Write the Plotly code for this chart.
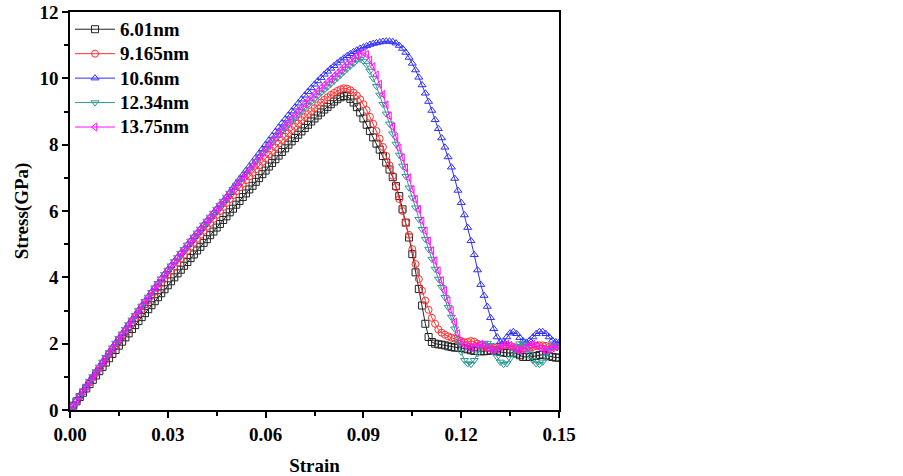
import plotly.graph_objects as go

# strain grid, one sample every 0.001
strain = [i / 1000 for i in range(151)]

labels = ["6.01nm", "9.165nm", "10.6nm", "12.34nm", "13.75nm"]

stress_601 = [
    0, 0.13, 0.26, 0.39, 0.52, 0.65, 0.78, 0.91, 1.04, 1.17,
    1.3, 1.43, 1.56, 1.69, 1.81, 1.94, 2.06, 2.19, 2.31, 2.44,
    2.56, 2.68, 2.8, 2.92, 3.04, 3.16, 3.28, 3.4, 3.52, 3.64,
    3.76, 3.88, 4.0, 4.12, 4.23, 4.35, 4.46, 4.58, 4.69, 4.81,
    4.92, 5.04, 5.15, 5.27, 5.38, 5.5, 5.61, 5.73, 5.84, 5.96,
    6.07, 6.19, 6.3, 6.42, 6.53, 6.65, 6.76, 6.88, 6.99, 7.11,
    7.22, 7.34, 7.45, 7.56, 7.67, 7.78, 7.89, 8.0, 8.1, 8.2,
    8.3, 8.4, 8.5, 8.6, 8.7, 8.79, 8.88, 8.97, 9.06, 9.14,
    9.22, 9.3, 9.37, 9.43, 9.47, 9.46, 9.38, 9.27, 9.13, 8.97,
    8.79, 8.6, 8.41, 8.22, 8.03, 7.85, 7.66, 7.46, 7.25, 7.02,
    6.75, 6.45, 6.05, 5.65, 5.2, 4.7, 4.15, 3.65, 3.15, 2.6,
    2.2, 2.05, 2.0, 1.98, 1.97, 1.95, 1.92, 1.9, 1.88, 1.88,
    1.87, 1.85, 1.83, 1.8, 1.78, 1.78, 1.77, 1.77, 1.78, 1.8,
    1.8, 1.78, 1.75, 1.73, 1.72, 1.72, 1.73, 1.7, 1.65, 1.6,
    1.6, 1.6, 1.62, 1.63, 1.66, 1.67, 1.65, 1.62, 1.6, 1.58,
    1.58,
]

stress_9165 = [
    0, 0.13, 0.27, 0.41, 0.55, 0.69, 0.83, 0.97, 1.11, 1.25,
    1.39, 1.53, 1.67, 1.81, 1.95, 2.09, 2.23, 2.37, 2.5, 2.64,
    2.77, 2.91, 3.04, 3.18, 3.31, 3.44, 3.57, 3.7, 3.83, 3.96,
    4.08, 4.2, 4.32, 4.44, 4.56, 4.68, 4.8, 4.92, 5.04, 5.16,
    5.28, 5.4, 5.52, 5.64, 5.76, 5.88, 6.0, 6.12, 6.24, 6.36,
    6.48, 6.6, 6.71, 6.82, 6.93, 7.04, 7.15, 7.26, 7.37, 7.48,
    7.59, 7.7, 7.81, 7.92, 8.03, 8.14, 8.24, 8.34, 8.44, 8.54,
    8.64, 8.74, 8.83, 8.92, 9.01, 9.1, 9.19, 9.27, 9.35, 9.43,
    9.5, 9.56, 9.62, 9.67, 9.7, 9.69, 9.64, 9.57, 9.48, 9.37,
    9.22, 9.04, 8.84, 8.63, 8.41, 8.18, 7.93, 7.66, 7.38, 7.06,
    6.72, 6.36, 6.0, 5.65, 5.28, 4.85, 4.4, 3.95, 3.6, 3.3,
    3.02, 2.78, 2.6, 2.43, 2.33, 2.27, 2.22, 2.18, 2.15, 2.12,
    2.08, 2.04, 2.05, 2.08, 2.06, 2.0, 1.95, 1.9, 1.88, 1.87,
    1.88, 1.9, 1.93, 1.95, 1.95, 1.93, 1.9, 1.88, 1.87, 1.86,
    1.86, 1.88, 1.9, 1.93, 1.95, 1.95, 1.93, 1.9, 1.9, 1.92,
    1.95,
]

stress_106 = [
    0, 0.14, 0.29, 0.43, 0.58, 0.72, 0.87, 1.01, 1.16, 1.3,
    1.45, 1.59, 1.74, 1.88, 2.02, 2.16, 2.3, 2.44, 2.58, 2.72,
    2.86, 3.0, 3.14, 3.28, 3.41, 3.55, 3.69, 3.82, 3.96, 4.09,
    4.22, 4.35, 4.48, 4.6, 4.73, 4.85, 4.98, 5.1, 5.22, 5.34,
    5.46, 5.58, 5.7, 5.82, 5.94, 6.06, 6.18, 6.3, 6.42, 6.55,
    6.7, 6.83, 6.96, 7.09, 7.22, 7.35, 7.48, 7.61, 7.74, 7.87,
    8.0, 8.13, 8.26, 8.39, 8.52, 8.65, 8.77, 8.89, 9.01, 9.13,
    9.25, 9.37, 9.49, 9.6, 9.71, 9.82, 9.92, 10.02, 10.12, 10.21,
    10.3, 10.38, 10.46, 10.54, 10.61, 10.68, 10.74, 10.8, 10.85, 10.9,
    10.94, 10.98, 11.02, 11.05, 11.07, 11.09, 11.11, 11.12, 11.12, 11.1,
    11.06, 10.99, 10.9, 10.78, 10.63, 10.45, 10.25, 10.03, 9.8, 9.55,
    9.3, 9.03, 8.75, 8.48, 8.2, 7.92, 7.63, 7.32, 6.98, 6.62,
    6.25, 5.88, 5.5, 5.1, 4.68, 4.22, 3.78, 3.45, 3.12, 2.78,
    2.45, 2.2, 2.05, 2.05, 2.2, 2.32, 2.36, 2.3, 2.18, 2.08,
    2.04, 2.1, 2.2, 2.3, 2.36, 2.36, 2.3, 2.2, 2.1, 2.05,
    2.03,
]

stress_1234 = [
    0, 0.14, 0.29, 0.43, 0.58, 0.72, 0.87, 1.01, 1.16, 1.3,
    1.45, 1.59, 1.74, 1.88, 2.02, 2.16, 2.3, 2.44, 2.58, 2.72,
    2.86, 3.0, 3.14, 3.28, 3.41, 3.55, 3.69, 3.82, 3.96, 4.09,
    4.22, 4.35, 4.48, 4.6, 4.73, 4.85, 4.98, 5.1, 5.22, 5.34,
    5.46, 5.58, 5.7, 5.82, 5.94, 6.06, 6.18, 6.3, 6.42, 6.54,
    6.66, 6.78, 6.9, 7.02, 7.14, 7.26, 7.38, 7.5, 7.62, 7.74,
    7.86, 7.97, 8.08, 8.19, 8.3, 8.41, 8.51, 8.61, 8.71, 8.81,
    8.91, 9.01, 9.11, 9.2, 9.29, 9.38, 9.47, 9.56, 9.65, 9.74,
    9.83, 9.92, 10.01, 10.1, 10.19, 10.28, 10.37, 10.45, 10.55, 10.58,
    10.52, 10.4, 10.22, 10.0, 9.76, 9.5, 9.22, 8.93, 8.63, 8.33,
    8.02, 7.69, 7.36, 7.05, 6.7, 6.4, 6.1, 5.75, 5.45, 5.15,
    4.85, 4.55, 4.25, 3.95, 3.7, 3.4, 3.1, 2.8, 2.45, 2.05,
    1.75, 1.5, 1.4, 1.38, 1.5, 1.7, 1.9, 2.0, 2.02, 1.95,
    1.8, 1.6, 1.45, 1.38, 1.4, 1.55, 1.75, 1.9, 2.0, 2.0,
    1.9, 1.7, 1.5, 1.4, 1.38, 1.45, 1.6, 1.8, 1.9, 1.95,
    1.95,
]

stress_1375 = [
    0, 0.14, 0.29, 0.43, 0.58, 0.72, 0.87, 1.01, 1.16, 1.3,
    1.45, 1.59, 1.74, 1.88, 2.02, 2.16, 2.3, 2.44, 2.58, 2.72,
    2.86, 3.0, 3.14, 3.28, 3.41, 3.55, 3.69, 3.82, 3.96, 4.09,
    4.22, 4.35, 4.48, 4.6, 4.73, 4.85, 4.98, 5.1, 5.22, 5.34,
    5.46, 5.58, 5.7, 5.82, 5.94, 6.06, 6.18, 6.3, 6.42, 6.54,
    6.66, 6.78, 6.9, 7.02, 7.14, 7.26, 7.38, 7.5, 7.62, 7.74,
    7.86, 7.98, 8.1, 8.22, 8.34, 8.46, 8.57, 8.68, 8.79, 8.9,
    9.01, 9.12, 9.23, 9.33, 9.43, 9.53, 9.62, 9.71, 9.8, 9.89,
    9.98, 10.07, 10.16, 10.25, 10.34, 10.43, 10.52, 10.6, 10.68, 10.74,
    10.77, 10.72, 10.55, 10.35, 10.1, 9.82, 9.52, 9.2, 8.87, 8.54,
    8.22, 7.9, 7.6, 7.3, 7.0, 6.65, 6.35, 6.05, 5.7, 5.4,
    5.1, 4.8, 4.5, 4.2, 3.9, 3.6, 3.3, 3.0, 2.65, 2.3,
    2.05, 1.95, 1.9, 1.88, 1.9, 1.95, 1.98, 1.95, 1.88, 1.82,
    1.8, 1.83, 1.9, 1.96, 1.98, 1.95, 1.88, 1.82, 1.8, 1.83,
    1.9, 1.96, 1.98, 1.95, 1.88, 1.82, 1.8, 1.82, 1.87, 1.9,
    1.9,
]

series = [stress_601, stress_9165, stress_106, stress_1234, stress_1375]
colors = ["#222222", "#ff3030", "#2f2fff", "#2e9a96", "#ff10ff"]
symbols = ["square-open", "circle-open", "triangle-up-open", "triangle-down-open", "triangle-left-open"]

fig = go.Figure()
for name, ys, color, symbol in zip(labels, series, colors, symbols):
    fig.add_trace(
        go.Scatter(
            x=strain,
            y=ys,
            # larger glyphs than the legend font so rows stay tight
            name=f'<span style="font-size:19px">{name}</span>',
            mode="lines+markers",
            line=dict(color=color, width=1),
            marker=dict(symbol=symbol, size=7, color=color, line=dict(color=color, width=1)),
        )
    )

font_family = "Liberation Serif, Times New Roman, serif"
axis_common = dict(
    automargin=False,
    showline=True,
    linecolor="black",
    linewidth=1.5,
    mirror=True,
    ticks="outside",
    ticklen=6,
    tickwidth=1.5,
    tickcolor="black",
    ticklabeloverflow="allow",
    showgrid=False,
    zeroline=False,
    tickfont=dict(family=font_family, size=19, color="black", weight="bold"),
    title_font=dict(family=font_family, size=19, color="black", weight="bold"),
)

fig.update_xaxes(
    range=[0, 0.15],
    tickvals=[0, 0.03, 0.06, 0.09, 0.12, 0.15],
    ticktext=["0.00", "0.03", "0.06", "0.09", "0.12", "0.15"],
    minor=dict(tickvals=[0.015, 0.045, 0.075, 0.105, 0.135], ticks="outside", ticklen=4, tickwidth=1.5, tickcolor="black"),
    title_text="Strain",
    title_standoff=28,
    **axis_common,
)
fig.update_yaxes(
    range=[0, 12],
    dtick=2,
    minor=dict(dtick=1, ticks="outside", ticklen=4, tickwidth=1.5, tickcolor="black"),
    title_text="Stress(GPa)",
    title_standoff=6,
    **axis_common,
)

fig.update_layout(
    width=903,
    height=476,
    margin=dict(l=70, r=344, t=12, b=66),
    paper_bgcolor="white",
    plot_bgcolor="white",
    font=dict(family=font_family, color="black"),
    legend=dict(
        x=0.0,
        y=1.0,
        xanchor="left",
        yanchor="top",
        bgcolor="rgba(0,0,0,0)",
        itemwidth=40,
        tracegroupgap=0,
        font=dict(family=font_family, size=16.5, color="black", weight="bold"),
    ),
)

# drop the default 8px body margin so the figure fills the window exactly
fig.write_html(
    "out.html",
    config={"displayModeBar": False},
    post_script="document.body.style.margin = '0';",
)
